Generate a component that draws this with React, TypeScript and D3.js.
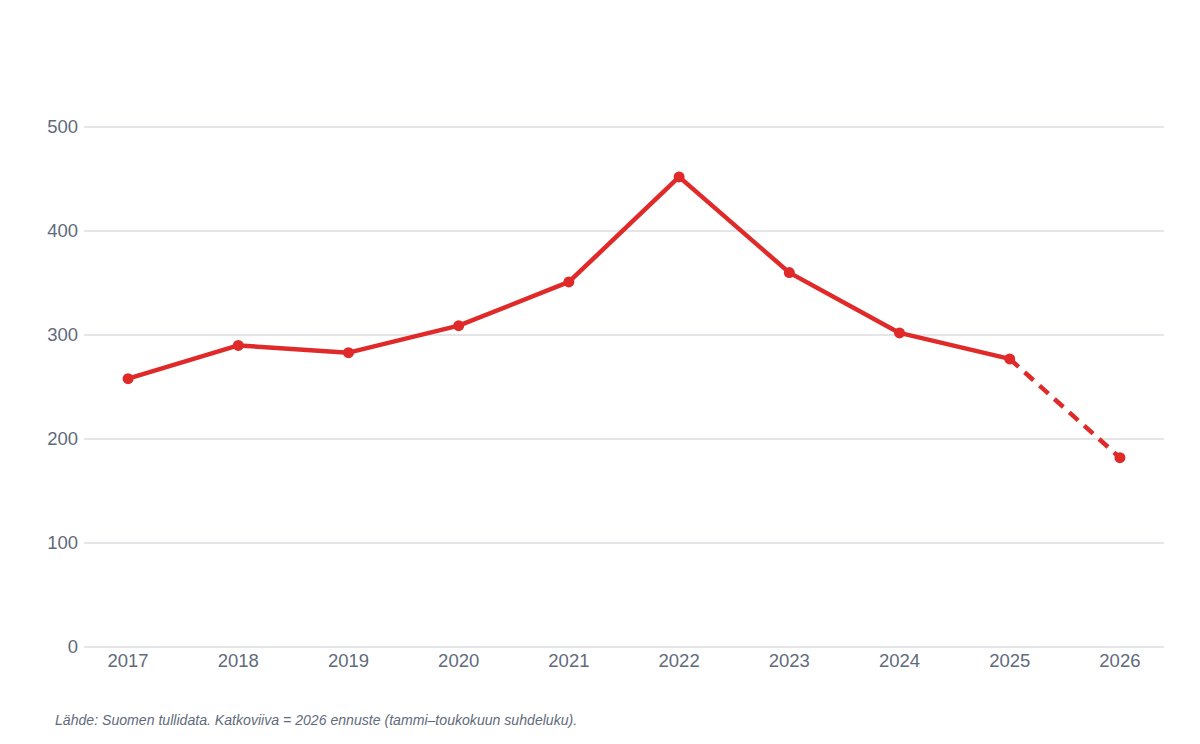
import * as React from 'react';
import { useEffect } from 'react';
import * as d3 from 'd3';

const years = ['2017', '2018', '2019', '2020', '2021', '2022', '2023', '2024', '2025', '2026'];
const values = [258, 290, 283, 309, 351, 452, 360, 302, 277, 182];
const yTicks = [0, 100, 200, 300, 400, 500];
const forecastFrom = 8; // 2025 -> 2026 is the dashed forecast
const footnote = 'Lähde: Suomen tullidata. Katkoviiva = 2026 ennuste (tammi–toukokuun suhdeluku).';

const width = 1200;
const height = 744;
const margin = { top: 127, right: 36, bottom: 97, left: 84 };
const red = '#e02a2a';
const axisText = '#5f6b7b';
const font = '"Liberation Sans", Arial, sans-serif';

const App: React.FC = () => {
  useEffect(() => {
    document.body.style.margin = '0';
  }, []);

  const x = d3.scalePoint<string>()
    .domain(years)
    .range([margin.left, width - margin.right])
    .padding(0.4);

  const y = d3.scaleLinear()
    .domain([0, 500])
    .range([height - margin.bottom, margin.top]);

  const pts = years.map((yr, i) => ({ yr, v: values[i] }));
  const line = d3.line<{ yr: string; v: number }>()
    .x(d => x(d.yr)!)
    .y(d => y(d.v));

  const solid = pts.slice(0, forecastFrom + 1);
  const dashed = pts.slice(forecastFrom);

  return (
    <svg width={width} height={height} style={{ display: 'block', background: '#fff' }} fontFamily={font}>
      {yTicks.map(t => (
        <g key={t}>
          <line x1={margin.left} x2={width - margin.right} y1={y(t)} y2={y(t)} stroke="#dadde2" strokeWidth={1.3} />
          <text x={margin.left - 6} y={y(t)} dy="0.35em" textAnchor="end" fontSize={18.5} fill={axisText}>{t}</text>
        </g>
      ))}
      {years.map(yr => (
        <text key={yr} x={x(yr)} y={height - margin.bottom + 14} dy="0.35em" textAnchor="middle" fontSize={18.5} fill={axisText}>{yr}</text>
      ))}
      <path d={line(solid) ?? ''} fill="none" stroke={red} strokeWidth={4.5} strokeLinejoin="round" strokeLinecap="round" />
      <path d={line(dashed) ?? ''} fill="none" stroke={red} strokeWidth={4.5} strokeDasharray="12 8" />
      {pts.map(p => (
        <circle key={p.yr} cx={x(p.yr)} cy={y(p.v)} r={5.5} fill={red} />
      ))}
      <text x={55} y={720} dy="0.35em" fontSize={14.1} fontStyle="italic" fill={axisText}>{footnote}</text>
    </svg>
  );
};

export default App;
